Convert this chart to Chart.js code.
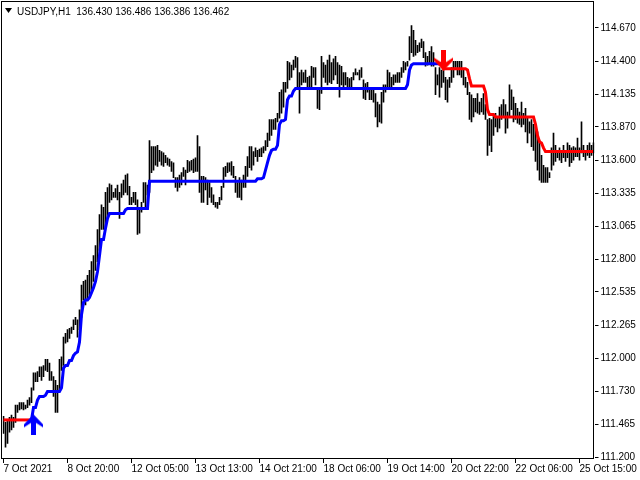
<!DOCTYPE html>
<html>
<head>
<meta charset="utf-8">
<script src="https://cdn.jsdelivr.net/npm/chart.js@4.4.0/dist/chart.umd.min.js"></script>
<style>
  html, body { margin: 0; padding: 0; background: #fff; }
  canvas { display: block; }
</style>
</head>
<body>
<canvas id="chart" width="640" height="480"></canvas>
<script>
// ------------------------------------------------------------
// USDJPY H1 - bars (high/low), trend line, signal arrows
// values, one entry per hourly bar
// ------------------------------------------------------------
const highs = [
  111.53,111.48,111.50,111.52,111.54,111.52,111.62,111.62,111.64,111.64,
  111.64,111.62,111.66,111.68,111.76,111.88,111.88,111.89,111.93,111.93,
  111.94,111.99,111.99,111.96,111.89,111.85,111.82,111.78,111.99,112.01,
  112.17,112.20,112.23,112.24,112.25,112.31,112.33,112.31,112.39,112.59,
  112.62,112.63,112.67,112.71,112.78,112.83,112.91,113.04,113.16,113.24,
  113.22,113.34,113.38,113.41,113.40,113.34,113.37,113.40,113.34,113.41,
  113.44,113.48,113.49,113.39,113.30,113.34,113.34,113.28,113.22,113.26,
  113.42,113.42,113.40,113.76,113.71,113.71,113.71,113.72,113.68,113.67,
  113.66,113.64,113.62,113.61,113.59,113.58,113.46,113.46,113.48,113.50,
  113.54,113.52,113.60,113.59,113.60,113.61,113.62,113.80,113.71,113.47,
  113.47,113.46,113.44,113.42,113.38,113.32,113.26,113.26,113.30,113.39,
  113.54,113.55,113.58,113.58,113.59,113.55,113.47,113.42,113.46,113.44,
  113.48,113.55,113.63,113.71,113.71,113.67,113.70,113.68,113.69,113.70,
  113.71,113.76,113.82,113.93,113.93,113.93,113.94,113.98,114.15,114.17,
  114.23,114.23,114.40,114.39,114.37,114.41,114.44,114.43,114.31,114.33,
  114.31,114.33,114.27,114.28,114.36,114.35,114.35,114.17,114.17,114.44,
  114.39,114.37,114.41,114.45,114.39,114.42,114.44,114.39,114.37,114.36,
  114.31,114.31,114.27,114.26,114.27,114.31,114.34,114.31,114.33,114.35,
  114.25,114.22,114.23,114.19,114.18,114.17,114.14,114.07,114.05,114.15,
  114.21,114.21,114.33,114.31,114.27,114.29,114.29,114.31,114.31,114.35,
  114.40,114.39,114.40,114.60,114.69,114.65,114.57,114.53,114.55,114.58,
  114.56,114.47,114.44,114.48,114.52,114.47,114.35,114.29,114.35,114.33,
  114.35,114.27,114.25,114.27,114.35,114.40,114.40,114.40,114.40,114.40,
  114.33,114.27,114.23,114.15,114.13,114.10,114.10,114.14,114.07,114.10,
  114.14,114.05,113.93,113.94,113.93,113.97,113.98,113.95,114.03,114.05,
  114.09,114.05,113.99,114.21,114.17,114.11,114.06,114.02,113.99,114.07,
  113.98,114.02,113.94,113.91,113.93,113.89,113.87,113.83,113.76,113.64,
  113.56,113.54,113.54,113.50,113.70,113.82,113.72,113.68,113.70,113.67,
  113.72,113.67,113.74,113.72,113.70,113.71,113.70,113.78,113.70,113.91,
  113.72,113.68,113.72,113.74,113.72,113.74
];

const lows = [
  111.39,111.28,111.31,111.40,111.42,111.44,111.48,111.56,111.58,111.59,
  111.58,111.59,111.60,111.62,111.64,111.74,111.81,111.81,111.85,111.82,
  111.85,111.90,111.89,111.82,111.82,111.69,111.56,111.56,111.74,111.90,
  111.94,112.12,112.13,112.16,112.20,112.23,112.27,112.17,112.23,112.33,
  112.47,112.43,112.47,112.51,112.55,112.62,112.71,112.78,112.87,113.04,
  113.04,113.06,113.13,113.26,113.28,113.30,113.30,113.28,113.13,113.30,
  113.32,113.34,113.32,113.24,113.24,113.26,113.24,113.00,113.01,113.18,
  113.26,113.22,113.32,113.34,113.50,113.52,113.56,113.55,113.59,113.56,
  113.55,113.58,113.56,113.55,113.51,113.46,113.38,113.35,113.38,113.40,
  113.47,113.40,113.50,113.51,113.52,113.50,113.51,113.51,113.34,113.26,
  113.26,113.36,113.24,113.30,113.26,113.24,113.22,113.21,113.24,113.28,
  113.38,113.47,113.50,113.51,113.48,113.46,113.34,113.30,113.30,113.28,
  113.38,113.38,113.47,113.54,113.52,113.56,113.63,113.59,113.63,113.63,
  113.66,113.68,113.71,113.76,113.80,113.85,113.85,113.91,113.94,113.98,
  114.03,114.15,114.18,114.25,114.27,114.33,114.35,114.17,113.98,114.21,
  114.23,114.23,114.19,114.19,114.19,114.27,114.21,114.02,114.01,114.14,
  114.27,114.23,114.21,114.23,114.22,114.25,114.29,114.22,114.11,114.21,
  114.17,114.21,114.19,114.19,114.19,114.25,114.29,114.29,114.25,114.27,
  114.10,114.09,114.15,114.09,114.09,114.07,113.95,113.87,113.91,113.90,
  114.07,114.15,114.17,114.19,114.19,114.21,114.23,114.23,114.23,114.27,
  114.31,114.33,114.36,114.41,114.47,114.44,114.45,114.47,114.48,114.51,
  114.43,114.36,114.37,114.39,114.36,114.36,114.13,114.21,114.11,114.19,
  114.23,114.09,114.07,114.19,114.23,114.27,114.35,114.29,114.29,114.27,
  114.21,114.19,114.13,113.93,113.91,113.95,113.99,113.98,113.97,113.99,
  113.97,113.93,113.64,113.72,113.67,113.80,113.87,113.83,113.86,113.93,
  113.95,113.82,113.86,113.95,114.01,113.91,113.93,113.90,113.89,113.87,
  113.89,113.83,113.74,113.82,113.71,113.68,113.59,113.52,113.44,113.42,
  113.42,113.42,113.42,113.46,113.52,113.56,113.59,113.62,113.60,113.58,
  113.62,113.59,113.62,113.55,113.58,113.60,113.63,113.63,113.60,113.66,
  113.63,113.60,113.64,113.62,113.64,113.66
];

// trailing stop line of the indicator
const trendLine = [
  111.50,111.50,111.50,111.50,111.50,111.50,111.50,111.50,111.50,111.50,
  111.50,111.50,111.50,111.50,111.50,111.60,111.60,111.66,111.69,111.69,
  111.69,111.70,111.73,111.73,111.73,111.73,111.73,111.73,111.73,111.76,
  111.92,111.94,111.94,111.98,111.98,112.02,112.04,112.05,112.13,112.35,
  112.45,112.47,112.47,112.49,112.53,112.57,112.62,112.70,112.83,112.96,
  112.96,113.05,113.13,113.17,113.17,113.17,113.17,113.17,113.17,113.17,
  113.17,113.20,113.21,113.21,113.21,113.21,113.21,113.21,113.21,113.21,
  113.21,113.21,113.21,113.43,113.43,113.43,113.43,113.43,113.43,113.43,
  113.43,113.43,113.43,113.43,113.43,113.43,113.43,113.43,113.43,113.43,
  113.43,113.43,113.43,113.43,113.43,113.43,113.43,113.43,113.43,113.43,
  113.43,113.43,113.43,113.43,113.43,113.43,113.43,113.43,113.43,113.43,
  113.43,113.43,113.43,113.43,113.43,113.43,113.43,113.43,113.43,113.43,
  113.43,113.43,113.43,113.43,113.43,113.43,113.43,113.45,113.45,113.45,
  113.46,113.52,113.58,113.64,113.68,113.69,113.69,113.72,113.89,113.92,
  113.92,113.93,114.09,114.12,114.12,114.16,114.18,114.18,114.18,114.18,
  114.18,114.18,114.18,114.18,114.18,114.18,114.18,114.18,114.18,114.18,
  114.18,114.18,114.18,114.18,114.18,114.18,114.18,114.18,114.18,114.18,
  114.18,114.18,114.18,114.18,114.18,114.18,114.18,114.18,114.18,114.18,
  114.18,114.18,114.18,114.18,114.18,114.18,114.18,114.18,114.18,114.18,
  114.18,114.18,114.18,114.18,114.18,114.18,114.18,114.18,114.18,114.18,
  114.18,114.18,114.21,114.33,114.37,114.38,114.38,114.38,114.38,114.38,
  114.38,114.38,114.38,114.38,114.38,114.38,114.38,114.38,114.38,114.38,
  114.34,114.34,114.34,114.34,114.34,114.34,114.34,114.34,114.34,114.34,
  114.34,114.34,114.33,114.26,114.20,114.20,114.20,114.20,114.20,114.20,
  114.20,114.15,114.01,113.97,113.97,113.97,113.95,113.95,113.95,113.95,
  113.95,113.95,113.95,113.95,113.95,113.95,113.95,113.95,113.95,113.95,
  113.95,113.95,113.95,113.95,113.95,113.95,113.89,113.80,113.75,113.74,
  113.70,113.67,113.67,113.67,113.67,113.67,113.67,113.67,113.67,113.67,
  113.67,113.67,113.67,113.67,113.67,113.67,113.67,113.67,113.67,113.67,
  113.67,113.67,113.67,113.67,113.67,113.67
];

// bar index where the trend flips, and the arrow price at that bar
const buyArrow = [15, 111.46];
const sellArrow = [220, 114.41];

const xTickLabels = ["7 Oct 2021", "8 Oct 20:00", "12 Oct 05:00", "13 Oct 13:00", "14 Oct 21:00",
                     "18 Oct 06:00", "19 Oct 14:00", "20 Oct 22:00", "22 Oct 06:00", "25 Oct 15:00"];
const xTickStep = 32;
const yTickLabels = ["114.670", "114.400", "114.135", "113.870", "113.600", "113.335", "113.065",
                     "112.800", "112.535", "112.265", "112.000", "111.730", "111.465", "111.200"];
const header = "USDJPY,H1  136.430 136.486 136.386 136.462";

// ------------------------------------------------------------
const BLUE = "#0000FF";
const RED = "#FF0000";
const isUp = i => i >= buyArrow[0] && i < sellArrow[0];

// arrow glyphs (MT style thick arrow) as small canvases
function makeArrow(color, down) {
  const c = document.createElement("canvas");
  c.width = 19; c.height = 21;
  const g = c.getContext("2d");
  const pts = [[9.5,0],[19,10],[19,13],[12,8.5],[12,21],[7,21],[7,8.5],[0,13],[0,10]];
  g.fillStyle = color;
  g.beginPath();
  pts.forEach(([x, y], k) => {
    const yy = down ? 21 - y : y;
    k ? g.lineTo(x, yy) : g.moveTo(x, yy);
  });
  g.closePath();
  g.fill();
  return c;
}

// kill the automatic label padding so the plot box sits where MT puts it
const noPad = ax => { ax.paddingLeft = ax.paddingRight = ax.paddingTop = ax.paddingBottom = 0; };

Chart.defaults.font.family = "'Liberation Sans', Arial, sans-serif";
Chart.defaults.font.size = 10;
Chart.defaults.color = "#000";

// frame + header text
const framePlugin = {
  id: "frame",
  afterDraw(chart) {
    const { ctx, chartArea: a } = chart;
    ctx.save();
    ctx.strokeStyle = "#000";
    ctx.lineWidth = 1;
    ctx.strokeRect(Math.floor(a.left) - 0.5, Math.floor(a.top) + 0.5,
                   Math.round(a.right - a.left), Math.round(a.bottom - a.top) - 1);
    // header
    ctx.fillStyle = "#000";
    ctx.beginPath();
    ctx.moveTo(5, 8); ctx.lineTo(12, 8); ctx.lineTo(8.5, 13); ctx.closePath();
    ctx.fill();
    ctx.font = "10px 'Liberation Sans', Arial, sans-serif";
    ctx.textBaseline = "alphabetic";
    ctx.fillText(header, 17, 15);
    ctx.restore();
  }
};

new Chart(document.getElementById("chart"), {
  type: "bar",
  data: {
    labels: highs.map((_, i) => i),
    datasets: [
      {
        type: "line",
        data: [{ x: buyArrow[0], y: buyArrow[1] }],
        showLine: false,
        pointStyle: makeArrow(BLUE, false),
        pointRadius: 10,
        order: 0
      },
      {
        type: "line",
        data: [{ x: sellArrow[0], y: sellArrow[1] }],
        showLine: false,
        pointStyle: makeArrow(RED, true),
        pointRadius: 10,
        order: 0
      },
      {
        type: "line",
        data: trendLine,
        borderWidth: 3,
        pointRadius: 0,
        tension: 0,
        borderColor: RED,
        segment: { borderColor: c => isUp(c.p1DataIndex) ? BLUE : RED },
        order: 1
      },
      {
        data: lows.map((l, i) => [l, highs[i]]),
        backgroundColor: "#000",
        borderWidth: 0,
        barThickness: 1,
        order: 2
      }
    ]
  },
  options: {
    responsive: false,
    animation: false,
    events: [],
    layout: { autoPadding: false, padding: { left: 2.5, top: 1, right: 0, bottom: 0 } },
    plugins: { legend: { display: false }, tooltip: { enabled: false } },
    scales: {
      x: {
        offset: true,
        border: { display: false },
        grid: { drawOnChartArea: false, drawTicks: true, tickLength: 4, color: "#000", offset: false },
        ticks: {
          autoSkip: false, maxRotation: 0, align: "start", padding: 0,
          callback: v => xTickLabels[v / xTickStep]
        },
        afterBuildTicks: ax => { ax.ticks = ax.ticks.filter(t => t.value % xTickStep === 0); },
        afterFit: ax => { ax.height = 21; noPad(ax); }
      },
      y: {
        position: "right",
        min: 111.184,
        max: 114.888,
        border: { display: false },
        grid: { drawOnChartArea: false, drawTicks: true, tickLength: 4, color: "#000" },
        ticks: { padding: 2, callback: v => v.toFixed(3) },
        afterBuildTicks: ax => { ax.ticks = yTickLabels.map(s => ({ value: parseFloat(s) })); },
        afterFit: ax => { ax.width = 45.5; noPad(ax); }
      }
    }
  },
  plugins: [framePlugin]
});
</script>
</body>
</html>
